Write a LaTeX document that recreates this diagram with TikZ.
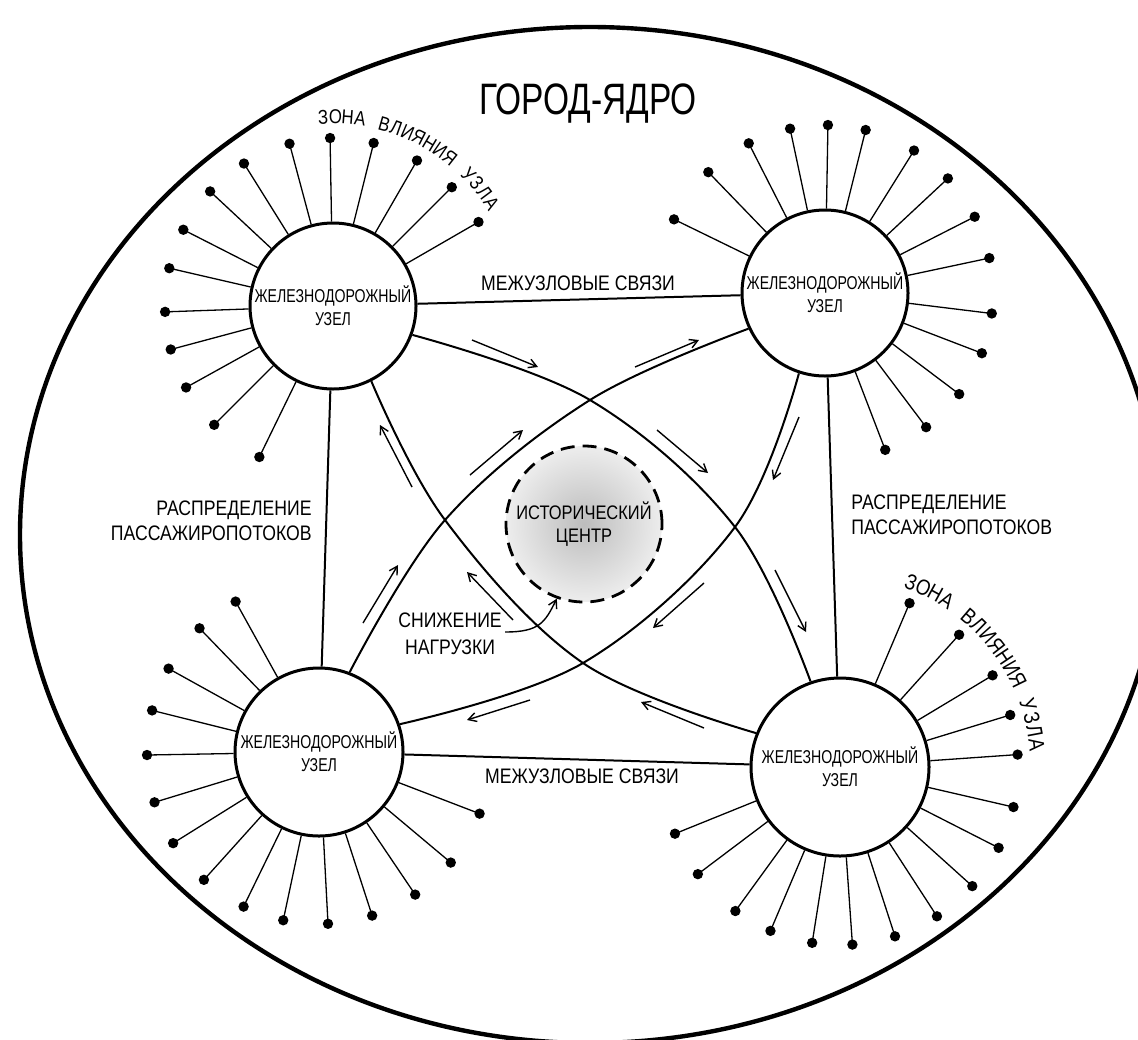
\documentclass[tikz,border=0pt]{standalone}
\usepackage{fontspec}
\setmainfont{Liberation Sans}[FakeStretch=0.82]
\newfontfamily\titlefont{Liberation Sans}[FakeStretch=0.76]
\newfontfamily\nodefont{Liberation Sans}[FakeStretch=0.76]
\newfontfamily\labfont{Liberation Sans}[FakeStretch=0.84]
\usetikzlibrary{arrows.meta,calc}
\begin{document}
\begin{tikzpicture}[x=0.5pt,y=-0.5pt,
  rail/.style={circle, draw, line width=1.5pt, minimum size=#1, inner sep=0pt,
    align=center, font=\nodefont\fontsize{9.3}{11.5}\selectfont},
  link/.style={line width=1pt},
  spoke/.style={line width=0.65pt},
  flow/.style={line width=0.7pt, -{Straight Barb[length=4pt,width=4.5pt]}},
  lab/.style={font=\labfont\fontsize{10.5}{12.5}\selectfont, inner sep=0pt},
  zoneletter/.style={inner sep=0pt, anchor=center},
]
\useasboundingbox (0,0) rectangle (1138,1039);
% outer city boundary
\draw[line width=2.2pt] (590,535) ellipse [x radius=570, y radius=508];
% title
\node[font=\titlefont\fontsize{22}{24}\selectfont] (title) at (588,104) {ГОРОД-ЯДРО};
% historic centre
\node[circle, minimum size=78pt, inner sep=0pt, inner color=black!26, outer color=black!7,
  draw, dashed, dash pattern=on 7pt off 4pt, line width=1.4pt, align=center,
  font=\labfont\fontsize{9.8}{11.5}\selectfont] (HC) at (584,524) {ИСТОРИЧЕСКИЙ\\ЦЕНТР};
% railway nodes
\node[rail=83pt] (TL) at (333,306) {ЖЕЛЕЗНОДОРОЖНЫЙ\\УЗЕЛ};
\node[rail=83pt] (TR) at (825,293) {ЖЕЛЕЗНОДОРОЖНЫЙ\\УЗЕЛ};
\node[rail=84pt] (BL) at (319,752) {ЖЕЛЕЗНОДОРОЖНЫЙ\\УЗЕЛ};
\node[rail=89pt] (BR) at (840,767) {ЖЕЛЕЗНОДОРОЖНЫЙ\\УЗЕЛ};
% spokes (zones of influence)
\foreach \a in {30,45,60,76,91,105,122,137,153,167,182,195,209,225,244}{
  \draw[spoke] (TL.\a) -- ($(TL)+(\a:84pt)$);
  \fill ($(TL)+(\a:84pt)$) circle[radius=2.6pt];}
\foreach \a in {154,134,117,102,89,76,58,43,27,12,-7,-21,-37,-53,-69}{
  \draw[spoke] (TR.\a) -- ($(TR)+(\a:84pt)$);
  \fill ($(TR)+(\a:84pt)$) circle[radius=2.6pt];}
\foreach \a in {119,134,151,166,181,197,212,228,244,258,273,288,304,320,339}{
  \draw[spoke] (BL.\a) -- ($(BL)+(\a:86pt)$);
  \fill ($(BL)+(\a:86pt)$) circle[radius=2.6pt];}
\foreach \a in {67,48,31,17,4,-13,-27,-42,-57,-72,-86,-99,-113,-126,-143,-158}{
  \draw[spoke] (BR.\a) -- ($(BR)+(\a:89pt)$);
  \fill ($(BR)+(\a:89pt)$) circle[radius=2.6pt];}
% inter-node links
\draw[link] (TL) -- (TR);
\draw[link] (BL) -- (BR);
\draw[link] (TL) -- (BL);
\draw[link] (TR) -- (BR);
% crossing points of the diagonal routes
\coordinate (xT) at (590,400);
\coordinate (xL) at (445,520);
\coordinate (xR) at (735,527);
\coordinate (xB) at (583,663);
\draw[link] plot[smooth, tension=0.6] coordinates {(TL.-20) (xT) (xR) (BR.109)};
\draw[link] plot[smooth, tension=0.6] coordinates {(TR.205) (xT) (xL) (BL.69)};
\draw[link] plot[smooth, tension=0.6] coordinates {(TL.-63) (xL) (xB) (BR.158)};
\draw[link] plot[smooth, tension=0.6] coordinates {(TR.252) (xR) (xB) (BL.19)};
% flow arrows
\foreach \sx/\sy/\ex/\ey in {472/340/538/367, 657/430/708/473, 775/570/806/632,
  635/367/699/340, 470/475/523/430, 363/623/398/565,
  412/487/380/425, 513/620/467/572, 704/728/641/702,
  799/417/773/480, 704/583/653/628, 530/700/467/720}{
  \draw[flow] (\sx,\sy) -- (\ex,\ey);}
% labels
\node[lab] (lt) at (578,283) {МЕЖУЗЛОВЫЕ СВЯЗИ};
\node[lab] (lb) at (582,776) {МЕЖУЗЛОВЫЕ СВЯЗИ};
\node[lab, anchor=east, align=right] (ll) at (312,521) {РАСПРЕДЕЛЕНИЕ\\ПАССАЖИРОПОТОКОВ};
\node[lab, anchor=west, align=left] (lr) at (851,515) {РАСПРЕДЕЛЕНИЕ\\ПАССАЖИРОПОТОКОВ};
\node[lab, align=center, font=\labfont\fontsize{10.5}{13.5}\selectfont] (SN) at (450,634) {СНИЖЕНИЕ\\НАГРУЗКИ};
\draw[flow] ($(SN.east)+(3,-2)$) .. controls (540,632) and (545,622) .. (HC.250);
% zone of influence captions (letters set along arcs)
\foreach \c [count=\i from 0] in {З,О,Н,А,{},В,Л,И,Я,Н,И,Я,{},У,З,Л,А}{
  \pgfmathsetmacro\ang{93-3.75*\i}
  \node[zoneletter, rotate=\ang-90, font=\labfont\fontsize{10}{10}\selectfont]
    at ($(TL)+(\ang:94.5pt)$) {\c};}
\foreach \c [count=\i from 0] in {З,О,Н,А,{},В,Л,И,Я,Н,И,Я,{},У,З,Л,А}{
  \pgfmathsetmacro\ang{69-3.9*\i}
  \node[zoneletter, rotate=\ang-90, font=\labfont\fontsize{11}{11}\selectfont]
    at ($(BR)+(\ang:99pt)$) {\c};}
\end{tikzpicture}
\end{document}
